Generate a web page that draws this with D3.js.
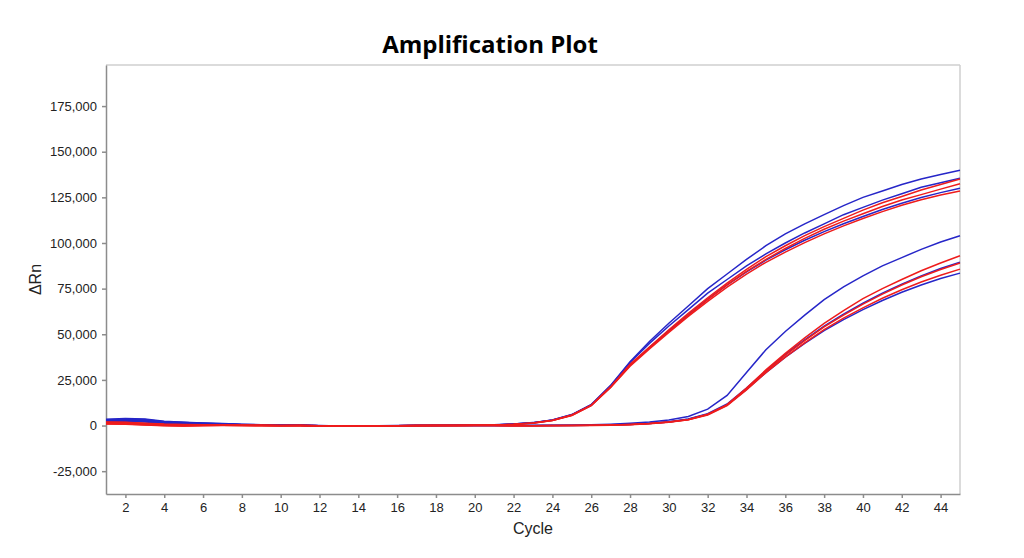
<!DOCTYPE html>
<html>
<head>
<meta charset="utf-8">
<script src="https://cdn.jsdelivr.net/npm/d3@7"></script>
<style>
	body { margin: 0; background: white; }
	.axis text { font-family: 'Liberation Sans', Arial, sans-serif; font-size: 13px; fill: #222; }
	.axis path, .axis line { stroke: #8c8c8c; stroke-width: 1.5; }
	.axisLabel { font-family: 'Liberation Sans', Arial, sans-serif; font-size: 16px; fill: #222; }
</style>
</head>
<body>
<div></div>
<script>
var cycles = [1, 2, 3, 4, 5, 6, 7, 8, 9, 10, 11, 12, 13, 14, 15, 16, 17, 18, 19, 20,
	21, 22, 23, 24, 25, 26, 27, 28, 29, 30, 31, 32, 33, 34, 35, 36, 37, 38, 39, 40,
	41, 42, 43, 44, 45];

var x_ticks = [2, 4, 6, 8, 10, 12, 14, 16, 18, 20, 22, 24, 26, 28, 30, 32, 34, 36, 38, 40, 42, 44];
var y_ticks = [-25000, 0, 25000, 50000, 75000, 100000, 125000, 150000, 175000];

// early wells (Ct ~ 25)
var early_blue_1 = [3500, 3800, 3600, 2300, 1800, 1400, 1100, 700, 500, 300, 200, 0, -300, -200, -100, 0, 0, 100, 100, 200,
	400, 900, 1600, 3100, 6000, 11500, 22000, 35000, 46000, 56000, 65500, 75000, 83000, 91000, 98500, 105000, 110500, 115500, 120500, 125000,
	128500, 132000, 135000, 137500, 139800];
var early_blue_2 = [3000, 3300, 3100, 2000, 1600, 1200, 900, 500, 400, 200, 100, -100, -400, -300, -200, -100, 0, 0, 100, 100,
	300, 800, 1500, 3000, 5900, 11400, 21800, 34500, 45000, 54500, 63500, 72500, 80000, 87500, 94000, 100000, 105500, 110500, 115500, 119500,
	123500, 127000, 130500, 133000, 135500];
var early_blue_3 = [2500, 2600, 2400, 1500, 1200, 900, 700, 400, 300, 100, 100, -100, -400, -300, -200, -100, 0, 0, 100, 100,
	300, 800, 1500, 2900, 5700, 11100, 21200, 33200, 42800, 52000, 60800, 69200, 77000, 84200, 90600, 96300, 101500, 106200, 110500, 114500,
	118300, 121800, 124900, 127600, 130000];
var early_red_1 = [1500, 1400, 1000, 600, 500, 400, 300, 100, 100, 0, 0, -100, -300, -200, -100, -100, 0, 0, 0, 100,
	300, 700, 1400, 2900, 5800, 11200, 21300, 33500, 43000, 52500, 61500, 70000, 78000, 85500, 92500, 98500, 104000, 109000, 113500, 118000,
	122000, 125500, 129000, 132000, 135000];
var early_red_2 = [1000, 800, 400, 0, -200, 0, 100, 0, 0, -100, 0, -100, -400, -300, -200, -100, 0, 0, 0, 100,
	300, 700, 1400, 2800, 5600, 11000, 21000, 33000, 42500, 51500, 60500, 69000, 77000, 84500, 91000, 97000, 102500, 107500, 112000, 116000,
	120000, 123500, 126500, 129500, 132500];
var early_red_3 = [2000, 1800, 1300, 800, 600, 500, 300, 200, 100, 0, 0, -200, -400, -300, -200, -100, -100, 0, 0, 100,
	200, 600, 1300, 2700, 5500, 10900, 20800, 32500, 42000, 51000, 59800, 68000, 75800, 83000, 89400, 95000, 100200, 105000, 109400, 113400,
	117200, 120700, 123700, 126300, 128500];

// late wells (Ct ~ 33)
var late_blue_1 = [3200, 3500, 3300, 2100, 1700, 1300, 1000, 600, 400, 200, 100, -100, -400, -300, -200, -100, 0, 0, 0, 0,
	0, 0, 0, 100, 200, 400, 700, 1200, 1900, 3000, 5000, 9000, 16500, 29000, 41500, 51500, 60500, 69000, 76000, 82000,
	87500, 92000, 96500, 100500, 104000];
var late_blue_2 = [2800, 3000, 2700, 1700, 1400, 1000, 800, 500, 300, 100, 100, -100, -400, -300, -200, -100, 0, 0, 0, 0,
	0, 0, 0, 0, 100, 200, 400, 700, 1200, 2100, 3600, 6500, 11800, 20500, 30000, 39000, 47000, 54500, 61000, 67000,
	72500, 77500, 82000, 86000, 89500];
var late_blue_3 = [2200, 2300, 2000, 1200, 1000, 700, 500, 300, 200, 0, 0, -200, -400, -300, -200, -100, 0, 0, 0, 0,
	0, 0, 0, 0, 0, 100, 300, 600, 1100, 2000, 3400, 6200, 11300, 19800, 29000, 37500, 45000, 52000, 58000, 63500,
	68500, 73000, 77000, 80500, 83500];
var late_red_1 = [1800, 1600, 1100, 600, 400, 300, 200, 100, 0, 0, 0, -100, -300, -200, -100, -100, 0, 0, 0, 0,
	0, -100, -100, 0, 0, 100, 300, 600, 1100, 1900, 3300, 6200, 11500, 20500, 30500, 39500, 48000, 56000, 63000, 69500,
	75000, 80000, 84800, 89000, 93000];
var late_red_2 = [1200, 1000, 600, 200, 0, 100, 100, 0, 0, -100, 0, -100, -400, -300, -200, -100, 0, 0, 0, 0,
	0, -100, -100, 0, 0, 100, 300, 600, 1100, 1900, 3200, 6000, 11200, 20000, 29500, 38500, 46500, 54000, 60500, 66500,
	72000, 77000, 81500, 85500, 89000];
var late_red_3 = [900, 700, 300, -100, -300, -100, 0, 0, -100, -100, -100, -200, -400, -300, -200, -100, -100, 0, 0, 0,
	0, -100, -100, -100, 0, 0, 200, 500, 1000, 1800, 3100, 5800, 10900, 19500, 29000, 37500, 45300, 52500, 58800, 64500,
	69700, 74400, 78600, 82300, 85700];

var blue_wells = [early_blue_1, early_blue_2, early_blue_3, late_blue_1, late_blue_2, late_blue_3];
var red_wells = [early_red_1, early_red_2, early_red_3, late_red_1, late_red_2, late_red_3];

function draw_chart() {
	var margin = {top: 65, right: 64, bottom: 64, left: 106};
	var width = 1024 - margin.left - margin.right;
	var height = 558 - margin.top - margin.bottom;

	var svg = d3.select('div')
		.append('svg')
			.attr('width', 1024)
			.attr('height', 558);

	// title
	svg.append('text')
		.attr('text-anchor', 'middle')
		.attr('x', 490)
		.attr('y', 53)
		.text('Amplification Plot')
		.style('font-family', "'Open Sans', 'DejaVu Sans', sans-serif")
		.style('font-weight', 'bold')
		.style('font-size', '24px')
		.style('fill', 'black');

	// x-axis label
	svg.append('text')
		.attr('class', 'axisLabel')
		.attr('text-anchor', 'middle')
		.attr('x', margin.left + width / 2)
		.attr('y', 534)
		.text('Cycle');

	// y-axis label
	svg.append('text')
		.attr('class', 'axisLabel')
		.attr('text-anchor', 'middle')
		.attr('x', -(margin.top + height / 2))
		.attr('y', 41)
		.attr('transform', 'rotate(-90)')
		.text('ΔRn');

	svg = svg.append('g')
		.attr('transform', 'translate(' + margin.left + ',' + margin.top + ')');

	var x = d3.scaleLinear()
		.domain([1, 45])
		.range([0, width]);

	var y = d3.scaleLinear()
		.domain([-37500, 197500])
		.range([height, 0]);

	// frame (top and right are lighter)
	svg.append('line')
		.attr('x1', 0).attr('x2', width)
		.attr('y1', 0).attr('y2', 0)
		.attr('stroke', '#cfcfcf')
		.attr('stroke-width', 1.5);
	svg.append('line')
		.attr('x1', width).attr('x2', width)
		.attr('y1', 0).attr('y2', height)
		.attr('stroke', '#cfcfcf')
		.attr('stroke-width', 1.5);

	var fmt = d3.formatLocale({decimal: '.', thousands: ',', grouping: [3], currency: ['', ''], minus: '-'}).format(',');

	// x axis
	svg.append('g')
		.attr('class', 'axis')
		.attr('transform', 'translate(0,' + height + ')')
		.call(d3.axisBottom(x).tickValues(x_ticks).tickSize(4).tickSizeOuter(0).tickPadding(5));

	// y axis
	svg.append('g')
		.attr('class', 'axis')
		.call(d3.axisLeft(y).tickValues(y_ticks).tickFormat(fmt).tickSize(4).tickSizeOuter(0).tickPadding(5));

	var line = d3.line()
		.x(function(d, i) { return x(cycles[i]); })
		.y(function(d) { return y(d); });

	// blue wells
	svg.append('g')
		.selectAll('path')
		.data(blue_wells)
		.enter()
		.append('path')
			.attr('d', line)
			.attr('fill', 'none')
			.attr('stroke', '#2626c8')
			.attr('stroke-width', 1.5);

	// red wells
	svg.append('g')
		.selectAll('path')
		.data(red_wells)
		.enter()
		.append('path')
			.attr('d', line)
			.attr('fill', 'none')
			.attr('stroke', '#ee1c1c')
			.attr('stroke-width', 1.5);
}

draw_chart();
</script>
</body>
</html>
